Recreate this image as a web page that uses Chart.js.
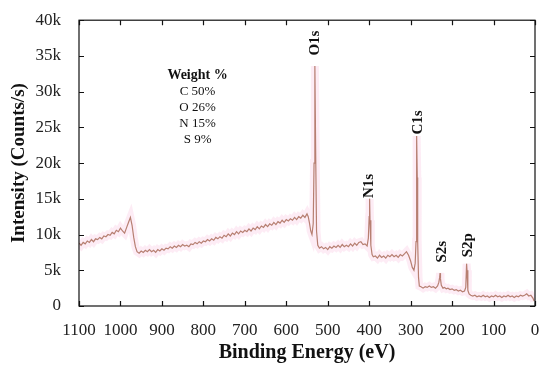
<!DOCTYPE html>
<html>
<head>
<meta charset="utf-8">
<script src="https://cdn.jsdelivr.net/npm/chart.js@4.4.0/dist/chart.umd.min.js"></script>
<style>
  body { margin: 0; background: #fff; }
  #wrap { width: 550px; height: 372px; position: relative; }
</style>
</head>
<body>
<div id="wrap"><canvas id="xpsChart"></canvas></div>
<script>
// Binding energy (eV) of each sample point
const energies = [
  1100, 1095, 1090, 1085, 1080, 1075, 1070, 1065, 1060, 1055, 1050, 1045, 1040, 1035, 1030, 1025, 1020, 1015, 1010, 1005, 1000,
  995, 990, 985, 980, 976, 972, 968, 964, 960, 955, 950, 945, 940, 935, 930, 925, 920, 915, 910, 905, 900,
  895, 890, 885, 880, 875, 870, 865, 860, 855, 850, 845, 840, 835, 830, 825, 820, 815, 810, 805, 800,
  795, 790, 785, 780, 775, 770, 765, 760, 755, 750, 745, 740, 735, 730, 725, 720, 715, 710, 705, 700,
  695, 690, 685, 680, 675, 670, 665, 660, 655, 650, 645, 640, 635, 630, 625, 620, 615, 610, 605, 600,
  595, 590, 585, 580, 575, 570, 565, 560, 555, 550, 547, 544, 541, 538, 535, 533, 531, 529, 527, 524, 520,
  515, 510, 505, 500, 495, 490, 485, 480, 475, 470, 465, 460, 455, 450, 445, 440, 435, 430, 425, 420, 415, 410, 405, 402, 400, 399, 398, 396, 393, 390,
  385, 380, 375, 370, 365, 360, 355, 350, 345, 340, 335, 330, 325, 320, 315, 310, 305, 300, 296, 292, 289, 287, 286, 285, 284, 283, 281, 279,
  275, 270, 265, 260, 255, 250, 245, 240, 235, 232, 230, 229, 228, 226, 222, 218, 214, 210, 205, 200, 195, 190, 185, 180, 175, 170, 167, 165, 164, 162, 159, 155,
  150, 145, 140, 135, 130, 125, 120, 115, 110, 105, 100, 95, 90, 85, 80, 75, 70, 65, 60, 55, 50, 45, 40, 35, 30, 25, 20, 15, 10, 5, 2
];

// Intensity in thousands of counts/s, same order as energies
const intensity = [
  8.8, 8.5, 8.9, 8.7, 9.1, 8.9, 9.3, 9.0, 9.4, 9.3, 9.6, 9.4, 9.8, 9.7, 10.0, 9.9, 10.3, 10.1, 10.6, 10.4, 10.9,
  10.5, 10.2, 11.0, 11.8, 12.4, 11.3, 9.6, 8.3, 7.6, 7.4, 7.7, 7.5, 7.8, 7.6, 7.9, 7.6, 7.8, 7.5, 7.9, 7.7, 8.0,
  7.8, 8.1, 8.0, 8.3, 8.1, 8.4, 8.2, 8.5, 8.3, 8.6, 8.4, 8.5, 8.3, 8.7, 8.6, 8.9, 8.7, 9.0, 8.8, 9.1,
  9.0, 9.3, 9.1, 9.4, 9.2, 9.6, 9.4, 9.7, 9.5, 9.9, 9.7, 10.1, 9.8, 10.2, 10.0, 10.4, 10.1, 10.5, 10.3, 10.6,
  10.4, 10.8, 10.5, 10.9, 10.7, 11.1, 10.8, 11.2, 11.0, 11.4, 11.1, 11.5, 11.3, 11.7, 11.4, 11.8, 11.6, 12.0, 11.7, 12.1,
  11.9, 12.2, 12.0, 12.4, 12.1, 12.5, 12.3, 12.7, 12.4, 12.9, 12.5, 11.6, 10.5, 10.0, 11.5, 20.0, 33.6, 21.0, 10.5, 8.5, 8.1,
  8.3, 8.0, 8.2, 7.9, 8.3, 8.1, 8.4, 8.2, 8.5, 8.2, 8.6, 8.3, 8.5, 8.3, 8.7, 8.4, 8.8, 8.5, 8.9, 9.0, 8.6, 8.7, 8.4, 9.5, 12.5, 15.0, 12.0, 8.5, 7.2, 6.9,
  7.0, 6.7, 7.1, 6.8, 7.0, 6.7, 7.1, 6.9, 7.2, 6.9, 7.1, 6.8, 7.2, 7.0, 7.3, 7.6, 7.1, 6.3, 5.4, 5.0, 6.0, 9.0, 16.0, 23.8, 18.0, 9.0, 4.0, 2.8,
  2.7, 2.5, 2.7, 2.6, 2.8, 2.6, 2.7, 2.5, 2.8, 3.3, 4.0, 4.6, 3.8, 2.9, 2.5, 2.6, 2.4, 2.5, 2.3, 2.4, 2.2, 2.3, 2.1, 2.2, 2.0, 2.1, 2.6, 5.9, 5.0, 2.2, 1.7, 1.5,
  1.4, 1.5, 1.3, 1.4, 1.3, 1.5, 1.3, 1.4, 1.2, 1.4, 1.3, 1.5, 1.3, 1.4, 1.2, 1.4, 1.3, 1.5, 1.3, 1.4, 1.2, 1.4, 1.3, 1.5, 1.4, 1.5, 1.7, 1.4, 1.5, 1.1, 0.7
];

// Axis ticks
const xTicks = [1100, 1000, 900, 800, 700, 600, 500, 400, 300, 200, 100, 0];
const xTickLabels = ['1100', '1000', '900', '800', '700', '600', '500', '400', '300', '200', '100', '0'];
const yTicks = [0, 5, 10, 15, 20, 25, 30, 35, 40];
const yTickLabels = ['0', '5k', '10k', '15k', '20k', '25k', '30k', '35k', '40k'];

// Peak names with [energy, intensity] where the label sits
const peakNames = ['O1s', 'N1s', 'C1s', 'S2s', 'S2p'];
const peakSpots = [[530, 36.8], [400, 16.8], [283, 25.7], [225, 7.6], [161, 8.5]];

// Composition table
const weightTitle = 'Weight %';
const weightLines = ['C 50%', 'O 26%', 'N 15%', 'S 9%'];

const points = energies.map((e, i) => ({ x: e, y: intensity[i] }));
const serif = '"Liberation Serif", "Times New Roman", serif';

// Frame with inward ticks on all four sides, plus text annotations
const framePlugin = {
  id: 'frame',
  afterDraw(chart) {
    const { ctx, chartArea: a, scales } = chart;
    ctx.save();
    ctx.strokeStyle = '#111';
    ctx.lineWidth = 1.2;
    ctx.strokeRect(a.left, a.top, a.right - a.left, a.bottom - a.top);
    ctx.beginPath();
    xTicks.forEach(v => {
      const px = Math.round(scales.x.getPixelForValue(v)) + 0.5;
      ctx.moveTo(px, a.bottom); ctx.lineTo(px, a.bottom - 5);
      ctx.moveTo(px, a.top); ctx.lineTo(px, a.top + 5);
    });
    yTicks.forEach(v => {
      const py = Math.round(scales.y.getPixelForValue(v)) + 0.5;
      ctx.moveTo(a.left, py); ctx.lineTo(a.left + 5, py);
      ctx.moveTo(a.right, py); ctx.lineTo(a.right - 5, py);
    });
    ctx.stroke();

    // peak labels, rotated
    ctx.fillStyle = '#111';
    ctx.font = 'bold 15px ' + serif;
    ctx.textAlign = 'center';
    ctx.textBaseline = 'middle';
    peakNames.forEach((name, i) => {
      const px = scales.x.getPixelForValue(peakSpots[i][0]);
      const py = scales.y.getPixelForValue(peakSpots[i][1]);
      ctx.save();
      ctx.translate(px, py);
      ctx.rotate(-Math.PI / 2);
      ctx.fillText(name, 0, 0);
      ctx.restore();
    });

    // weight % block
    const wx = scales.x.getPixelForValue(814);
    let wy = scales.y.getPixelForValue(32.3);
    ctx.font = 'bold 14px ' + serif;
    ctx.fillText(weightTitle, wx, wy);
    ctx.font = '13px ' + serif;
    weightLines.forEach(t => {
      wy += 16;
      ctx.fillText(t, wx, wy);
    });
    ctx.restore();
  }
};

const xpsChart = new Chart(document.getElementById('xpsChart'), {
  type: 'line',
  data: {
    datasets: [{
      data: points,
      borderColor: 'rgba(250, 208, 230, 0.4)',
      borderWidth: 8,
      pointRadius: 0,
      tension: 0
    }, {
      data: points,
      borderColor: '#8a4a24',
      borderWidth: 1.2,
      pointRadius: 0,
      tension: 0
    }]
  },
  options: {
    responsive: true,
    maintainAspectRatio: false,
    animation: false,
    layout: { padding: { top: 20, right: 15, left: 0, bottom: 0 } },
    plugins: { legend: { display: false }, tooltip: { enabled: false } },
    scales: {
      x: {
        type: 'linear',
        reverse: true,
        min: 0,
        max: 1100,
        afterFit: s => { s.height = 66; },
        afterBuildTicks: s => { s.ticks = xTicks.map(v => ({ value: v })); },
        ticks: {
          padding: 6,
          color: '#222',
          maxRotation: 0,
          autoSkip: false,
          font: { family: serif, size: 17 },
          callback: v => xTickLabels[xTicks.indexOf(v)]
        },
        grid: { display: false },
        border: { display: false },
        title: {
          display: true,
          text: 'Binding Energy (eV)',
          color: '#111',
          font: { family: serif, size: 20, weight: 'bold' },
          padding: { top: 0, bottom: 7 }
        }
      },
      y: {
        min: 0,
        max: 40,
        afterFit: s => { s.width = 79; },
        afterBuildTicks: s => { s.ticks = yTicks.map(v => ({ value: v })); },
        ticks: {
          padding: 10,
          color: '#222',
          font: { family: serif, size: 17 },
          callback: v => yTickLabels[yTicks.indexOf(v)]
        },
        grid: { display: false },
        border: { display: false },
        title: {
          display: true,
          text: 'Intensity (Counts/s)',
          color: '#111',
          font: { family: serif, size: 19, weight: 'bold' },
          padding: { top: 8, bottom: 0 }
        }
      }
    }
  },
  plugins: [framePlugin]
});
</script>
</body>
</html>
